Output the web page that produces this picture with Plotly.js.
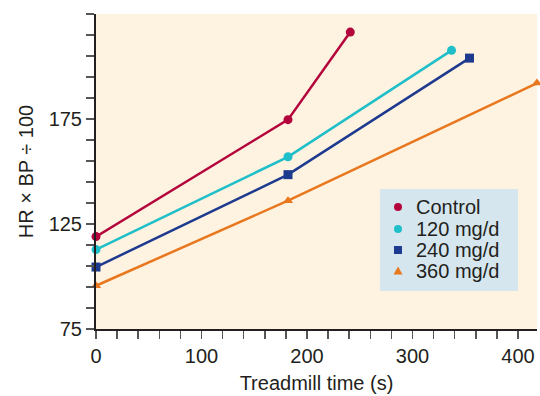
<!DOCTYPE html>
<html>
<head>
<meta charset="utf-8">
<script src="https://cdn.plot.ly/plotly-3.0.1.min.js"></script>
<style>html,body{margin:0;padding:0;background:#fff;}#chart{width:540px;height:396px;}</style>
</head>
<body>
<div id="chart"></div>
<script>
const seriesNames = ["Control", "120 mg/d", "240 mg/d", "360 mg/d"];
const controlX = [0, 182, 241];
const controlY = [119, 174.7, 216.4];
const mg120X = [0, 182, 337];
const mg120Y = [112.8, 157, 207.7];
const mg240X = [0, 182, 354];
const mg240Y = [104.5, 148.5, 204];
const mg360X = [0, 182, 418];
const mg360Y = [95.6, 136.1, 192.1];
const xTickVals = [0, 100, 200, 300, 400];
const yTickVals = [75, 125, 175];

const colors = ["#b3053c", "#1fbfc9", "#1e3a8e", "#e8771e"];
const symbols = ["circle", "circle", "square", "triangle-up"];
const xs = [controlX, mg120X, mg240X, mg360X];
const ys = [controlY, mg120Y, mg240Y, mg360Y];

const traces = [];
for (let i = 0; i < 4; i++) {
  traces.push({
    x: xs[i], y: ys[i], mode: "lines+markers", showlegend: false,
    line: {color: colors[i], width: 2.5},
    marker: {color: colors[i], symbol: symbols[i], size: 9},
    cliponaxis: false, hoverinfo: "skip"
  });
}

// plot area in pixels (for legend placement)
const PL = 96, PR = 537, PT = 14, PB = 329;
const px = v => (v - PL) / (PR - PL);
const py = v => (PB - v) / (PB - PT);

const font = {family: "Liberation Sans, Arial, sans-serif", size: 20, color: "#231f20"};

const shapes = [{
  type: "rect", xref: "paper", yref: "paper",
  x0: px(380), x1: px(518), y0: py(291), y1: py(189),
  fillcolor: "#d5e6ef", line: {width: 0}, layer: "above"
}];
const annotations = [];
const rowY = [207, 229, 250, 271];
for (let i = 0; i < 4; i++) {
  const base = {xref: "paper", yref: "paper", xanchor: "center", yanchor: "middle",
    xsizemode: "pixel", ysizemode: "pixel", xanchor: px(398), yanchor: py(rowY[i]),
    fillcolor: colors[i], line: {width: 0}, layer: "above"};
  if (symbols[i] === "circle") {
    shapes.push(Object.assign({}, base, {type: "circle", x0: -4, x1: 4, y0: -4, y1: 4}));
  } else if (symbols[i] === "square") {
    shapes.push(Object.assign({}, base, {type: "rect", x0: -4, x1: 4, y0: -4, y1: 4}));
  } else {
    shapes.push(Object.assign({}, base, {type: "path", path: "M-4.5,-3.5 L4.5,-3.5 L0,4.5 Z"}));
  }
  annotations.push({
    xref: "paper", yref: "paper", x: px(414), y: py(rowY[i]),
    xanchor: "left", yanchor: "middle", showarrow: false,
    text: seriesNames[i], font: font
  });
}

const layout = {
  width: 540, height: 396,
  margin: {l: PL, r: 540 - PR, t: PT, b: 396 - PB},
  paper_bgcolor: "#ffffff",
  plot_bgcolor: "#fef2e0",
  font: font,
  showlegend: false,
  shapes: shapes,
  annotations: annotations,
  xaxis: {
    range: [0, 418], tickvals: xTickVals, ticks: "outside", ticklen: 8, tickwidth: 1.5,
    tickcolor: "#555", showline: true, linecolor: "#231f20", linewidth: 2,
    showgrid: false, zeroline: false,
    minor: {dtick: 20, tick0: 0, ticks: "outside", ticklen: 8, tickwidth: 1.5, tickcolor: "#555", showgrid: false},
    title: {text: "Treadmill time (s)", font: font, standoff: 10},
    tickfont: font
  },
  yaxis: {
    range: [75, 225], tickvals: yTickVals, ticks: "outside", ticklen: 8, tickwidth: 1.5,
    tickcolor: "#555", showline: true, linecolor: "#231f20", linewidth: 2,
    showgrid: false, zeroline: false,
    minor: {dtick: 10, tick0: 75, ticks: "outside", ticklen: 8, tickwidth: 1.5, tickcolor: "#555", showgrid: false},
    title: {text: "HR \u00d7 BP \u00f7 100", font: font, standoff: 10},
    tickfont: font
  }
};

Plotly.newPlot("chart", traces, layout, {displayModeBar: false, staticPlot: true});
</script>
</body>
</html>
